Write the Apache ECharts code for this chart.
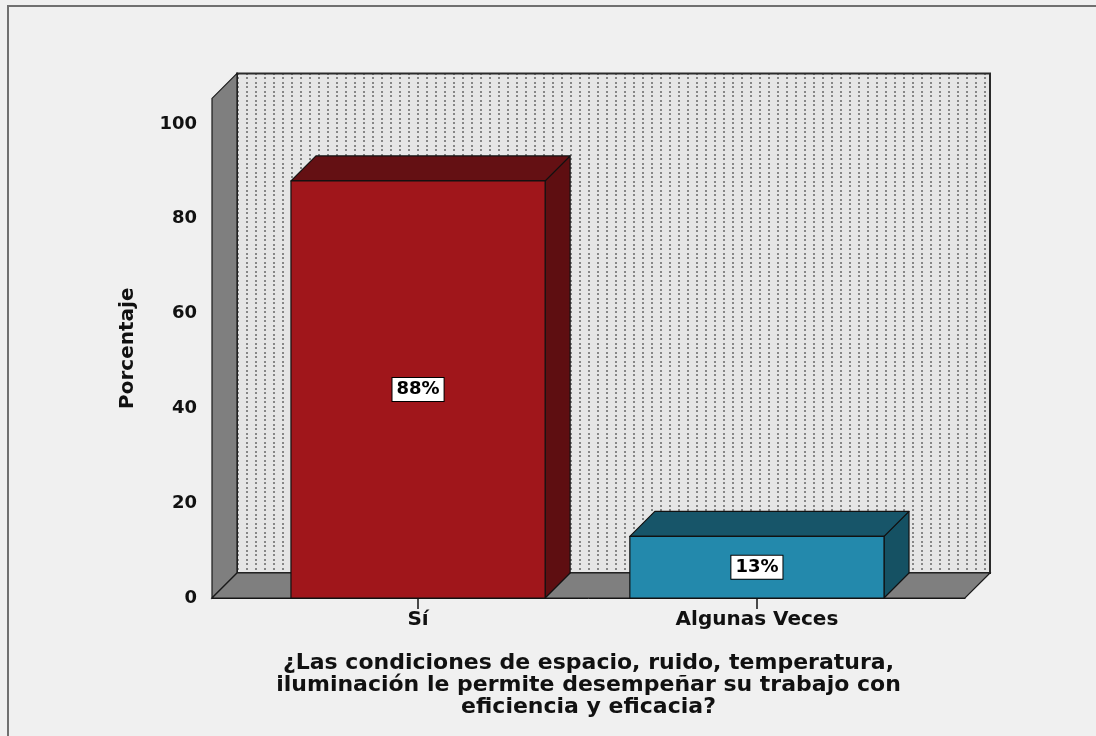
<!DOCTYPE html>
<html>
<head>
<meta charset="utf-8">
<script src="https://cdn.jsdelivr.net/npm/echarts@6/dist/echarts.min.js"></script>
<style>
  html, body { margin: 0; padding: 0; background: #f0f0f0; }
  #chart { width: 1096px; height: 736px; }
</style>
</head>
<body>
<div id="chart"></div>
<script>
// Response categories and their percentages
const categories = ['Sí', 'Algunas Veces'];
const percentages = [88, 13];
const yTickValues = [0, 20, 40, 60, 80, 100];
const axisTitle = '¿Las condiciones de espacio, ruido, temperatura,\niluminación le permite desempeñar su trabajo con\neficiencia y eficacia?';
const yTitle = 'Porcentaje';

// Face colours per bar: front, top, side
const frontColors = ['#a0161b', '#2389ac'];
const topColors = ['#641013', '#175569'];
const sideColors = ['#5e0e11', '#155163'];

const DEPTH = 25;          // pixel offset of the 3D depth
const HALF_BAR = 0.375;    // half bar width in x-axis units
const FONT = 'DejaVu Sans';

// dotted fill for the back wall
function dotPattern() {
  const c = document.createElement('canvas');
  c.width = 9; c.height = 9;
  const ctx = c.getContext('2d');
  ctx.fillStyle = '#e6e6e6';
  ctx.fillRect(0, 0, 9, 9);
  ctx.fillStyle = '#868686';
  ctx.fillRect(3, 1, 2, 2);
  ctx.fillRect(3, 5, 2, 2);
  return c;
}
const wallPattern = { image: dotPattern(), repeat: 'repeat' };

const chart = echarts.init(document.getElementById('chart'), null, { renderer: 'canvas' });

function renderWalls(params, api) {
  const cs = params.coordSys;
  const l = cs.x, r = cs.x + cs.width, t = cs.y, b = cs.y + cs.height;
  const D = DEPTH;
  return {
    type: 'group',
    children: [
      { // back wall
        type: 'rect',
        shape: { x: l + D, y: t - D, width: cs.width, height: cs.height },
        style: { fill: wallPattern, stroke: '#2a2a2a', lineWidth: 2 }
      },
      { // left side wall
        type: 'polygon',
        shape: { points: [[l, b], [l, t], [l + D, t - D], [l + D, b - D]] },
        style: { fill: '#7f7f7f', stroke: '#1a1a1a', lineWidth: 1.2 }
      },
      { // floor
        type: 'polygon',
        shape: { points: [[l, b], [l + D, b - D], [r + D, b - D], [r, b]] },
        style: { fill: '#7f7f7f', stroke: '#1a1a1a', lineWidth: 1.2 }
      }
    ]
  };
}

function renderBar(params, api) {
  const i = params.dataIndex;
  const x = api.value(0), v = api.value(1);
  const p0 = api.coord([x - HALF_BAR, 0]);
  const p1 = api.coord([x + HALF_BAR, v]);
  const x0 = p0[0], x1 = p1[0], yb = p0[1], yt = p1[1];
  const D = DEPTH;
  const edge = { stroke: '#111', lineWidth: 1.2, lineJoin: 'round' };
  return {
    type: 'group',
    children: [
      {
        type: 'polygon',
        shape: { points: [[x1, yt], [x1 + D, yt - D], [x1 + D, yb - D], [x1, yb]] },
        style: Object.assign({ fill: sideColors[i] }, edge)
      },
      {
        type: 'polygon',
        shape: { points: [[x0, yt], [x0 + D, yt - D], [x1 + D, yt - D], [x1, yt]] },
        style: Object.assign({ fill: topColors[i] }, edge)
      },
      {
        type: 'rect',
        shape: { x: x0, y: yt, width: x1 - x0, height: yb - yt },
        style: Object.assign({ fill: frontColors[i] }, edge)
      },
      {
        type: 'text',
        x: (x0 + x1) / 2,
        y: (yt + yb) / 2,
        style: {
          text: Math.round(v) + '%',
          align: 'center',
          verticalAlign: 'middle',
          fill: '#000',
          font: 'bold 18px "' + FONT + '"',
          backgroundColor: '#fff',
          borderColor: '#000',
          borderWidth: 1,
          padding: [3, 4, 2, 4]
        }
      }
    ]
  };
}

chart.setOption({
  backgroundColor: '#f0f0f0',
  animation: false,
  graphic: [{
    type: 'rect',
    shape: { x: 8, y: 6, width: 1100, height: 740 },
    style: { fill: 'none', stroke: '#707070', lineWidth: 2 },
    z: 100
  }],
  grid: { left: 212, right: 131, top: 98.4, bottom: 138 },
  xAxis: {
    type: 'value',
    min: -0.608,
    max: 1.614,
    splitLine: { show: false },
    axisLine: { show: true, lineStyle: { color: '#111', width: 1 } },
    axisTick: { show: true, customValues: [0, 1], length: 11, lineStyle: { color: '#111', width: 1.5 } },
    axisLabel: {
      customValues: [0, 1],
      formatter: function (val) { return categories[Math.round(val)]; },
      margin: 12,
      color: '#111',
      fontFamily: FONT,
      fontWeight: 'bold',
      fontSize: 20
    },
    name: axisTitle,
    nameLocation: 'middle',
    nameGap: 54,
    nameTextStyle: {
      color: '#111',
      fontFamily: FONT,
      fontWeight: 'bold',
      fontSize: 22,
      lineHeight: 22,
      align: 'center'
    }
  },
  yAxis: {
    type: 'value',
    min: 0,
    max: 105.4,
    splitLine: { show: false },
    axisLine: { show: true, lineStyle: { color: '#111', width: 1 } },
    axisTick: { show: true, customValues: yTickValues, length: 12, lineStyle: { color: '#111', width: 1.5 } },
    axisLabel: {
      customValues: yTickValues,
      margin: 15,
      color: '#111',
      fontFamily: FONT,
      fontWeight: 'bold',
      fontSize: 18
    },
    name: yTitle,
    nameLocation: 'middle',
    nameGap: 74,
    nameTextStyle: {
      color: '#111',
      fontFamily: FONT,
      fontWeight: 'bold',
      fontSize: 20
    }
  },
  series: [
    {
      type: 'custom',
      name: 'walls',
      renderItem: renderWalls,
      data: [[0, 0]],
      clip: false,
      silent: true,
      z: 1
    },
    {
      type: 'custom',
      name: 'Porcentaje',
      renderItem: renderBar,
      encode: { x: 0, y: 1 },
      data: categories.map(function (c, i) { return [i, percentages[i]]; }),
      clip: false,
      z: 3
    }
  ]
});
</script>
</body>
</html>
